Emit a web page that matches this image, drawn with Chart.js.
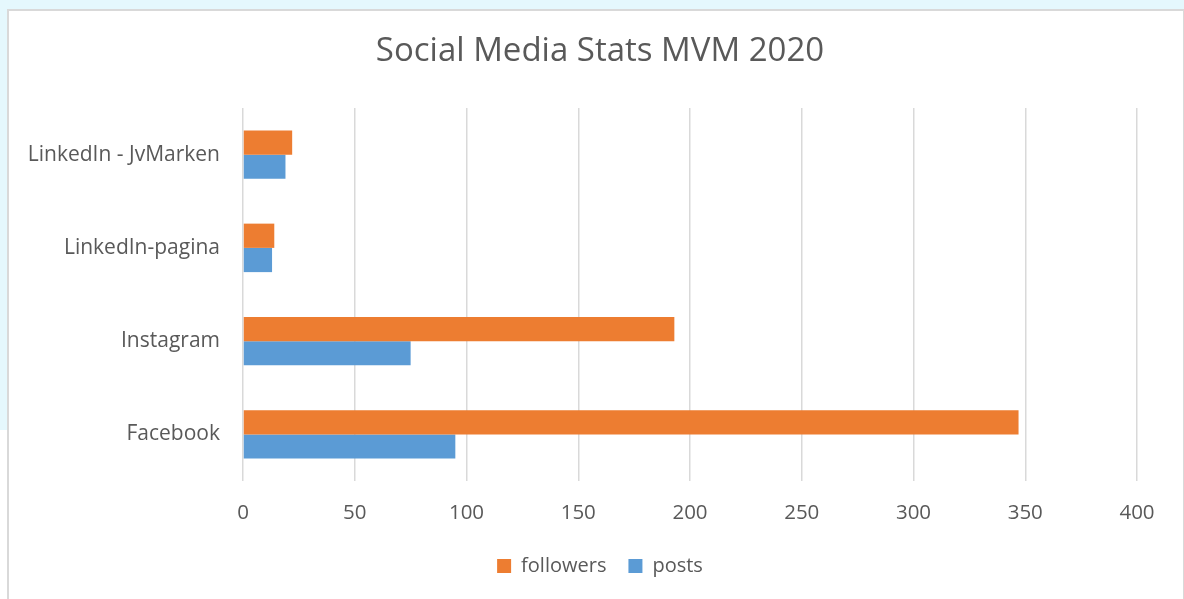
<!DOCTYPE html>
<html>
<head>
<meta charset="utf-8">
<script src="https://cdn.jsdelivr.net/npm/chart.js@4/dist/chart.umd.min.js"></script>
<style>
  html, body { margin: 0; padding: 0; background: #ffffff; }
  #wrap { position: relative; width: 1184px; height: 599px; overflow: hidden; }
  #bluebg { position: absolute; left: 0; top: 0; width: 1184px; height: 430px; background: #E5F8FD; }
  #box { position: absolute; left: 7px; top: 9px; width: 1174px; height: 600px; background: #ffffff;
         border-left: 2px solid #D9D9D9; border-top: 2px solid #D9D9D9; border-right: 2px solid #D9D9D9; }
  #c { position: absolute; left: 0; top: 0; }
</style>
</head>
<body>
<div id="wrap">
  <div id="bluebg"></div>
  <div id="box"></div>
  <canvas id="c" width="1184" height="599"></canvas>
</div>
<script>
const categories = ["LinkedIn - JvMarken", "LinkedIn-pagina", "Instagram", "Facebook"];
const followers = [22, 14, 193, 347];
const posts = [19, 13, 75, 95];
const seriesNames = ["followers", "posts"];
const titleText = "Social Media Stats MVM 2020";

const FONT = "'Open Sans', sans-serif";
const TXT = "#595959";

new Chart(document.getElementById("c"), {
  type: "bar",
  data: {
    labels: categories,
    datasets: [
      { label: seriesNames[0], data: followers, backgroundColor: "#ED7D31", borderWidth: 0 },
      { label: seriesNames[1], data: posts, backgroundColor: "#5B9BD5", borderWidth: 0 }
    ]
  },
  options: {
    indexAxis: "y",
    responsive: false,
    animation: false,
    layout: { padding: { left: 26, right: 10, top: 0, bottom: 13 } },
    datasets: { bar: { categoryPercentage: 0.52, barPercentage: 1.0 } },
    plugins: {
      title: {
        display: true, text: titleText, color: TXT,
        font: { family: FONT, size: 33, weight: "normal" },
        padding: { top: 32, bottom: 36.4 }
      },
      legend: {
        position: "bottom",
        labels: { color: TXT, font: { family: FONT, size: 20 }, boxWidth: 14, boxHeight: 14, padding: 22 }
      },
      tooltip: { enabled: false }
    },
    scales: {
      x: {
        min: 0, max: 400,
        ticks: { stepSize: 50, color: TXT, font: { family: FONT, size: 20.5 }, padding: 19.5 },
        grid: { color: "#D9D9D9", lineWidth: 1.5, drawTicks: false },
        border: { display: false },
        afterFit: (s) => { s.height = 53; }
      },
      y: {
        ticks: { color: TXT, font: { family: FONT, size: 21 }, padding: 23 },
        grid: { display: false, drawTicks: false },
        border: { display: false },
        afterFit: (s) => { s.width = 217; }
      },
      yRight: {
        position: "right",
        display: true,
        ticks: { display: false },
        grid: { display: false, drawTicks: false },
        border: { display: false },
        afterFit: (s) => { s.width = 37; }
      }
    }
  }
});
</script>
</body>
</html>
